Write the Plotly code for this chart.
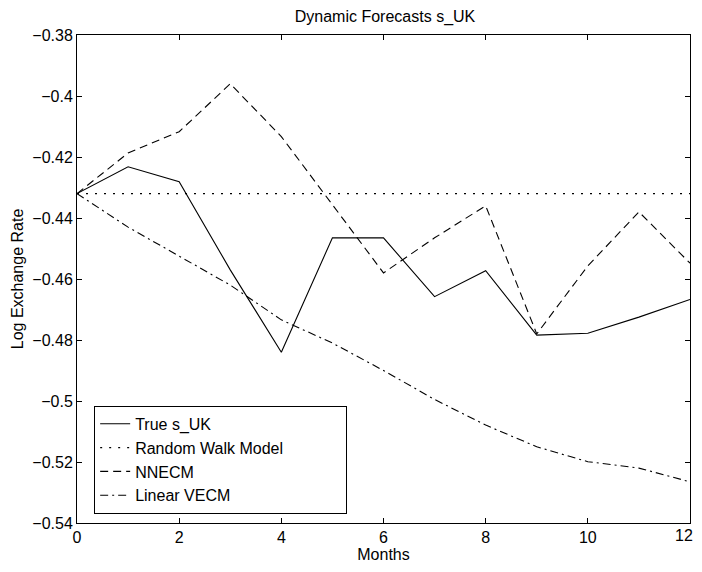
import plotly.graph_objects as go

months = list(range(13))
true_uk = [-0.432, -0.4232, -0.4281, -0.457, -0.484, -0.4465, -0.4465, -0.4658, -0.4573, -0.4784, -0.4778, -0.4725, -0.4667]
random_walk = [-0.432] * 13
nnecm = [-0.432, -0.4187, -0.4117, -0.396, -0.4133, -0.4357, -0.458, -0.4465, -0.436, -0.478, -0.4557, -0.438, -0.4548]
linear_vecm = [-0.432, -0.443, -0.4525, -0.462, -0.4734, -0.481, -0.490, -0.4995, -0.5079, -0.515, -0.5199, -0.522, -0.5265]

x_ticks = [0, 2, 4, 6, 8, 10, 12]
x_tick_text = ["0", "2", "4", "6", "8", "10", "12"]
y_ticks = [-0.54, -0.52, -0.5, -0.48, -0.46, -0.44, -0.42, -0.4, -0.38]
y_tick_text = ["\u22120.54", "\u22120.52", "\u22120.5", "\u22120.48", "\u22120.46", "\u22120.44", "\u22120.42", "\u22120.4", "\u22120.38"]

FONT = "Liberation Sans, Arial, Helvetica, sans-serif"
FS = 16
PAD = "\u00a0" * 13

fig = go.Figure()
series = [
    ("True s_UK", true_uk, "solid"),
    ("Random Walk Model" + PAD, random_walk, "2px,7px"),
    ("NNECM", nnecm, "8px,5px"),
    ("Linear VECM", linear_vecm, "8px,4px,2px,4px"),
]
for name, vals, dash in series:
    fig.add_trace(go.Scatter(x=months, y=vals, mode="lines", name=name,
                             line=dict(color="black", width=1.1, dash=dash)))

axis_common = dict(showgrid=False, zeroline=False, showline=True, linecolor="black",
                   linewidth=1, mirror="ticks", ticks="inside", ticklen=5, automargin=False,
                   tickcolor="black", tickfont=dict(family=FONT, size=FS, color="black"))

# the last x tick label sits at the page edge; draw it as an annotation nudged inside
axis_tick_text = x_tick_text[:-1] + [""]

fig.update_layout(
    width=686, height=556,
    margin=dict(l=69, r=4, t=27, b=41),
    paper_bgcolor="white", plot_bgcolor="white",
    font=dict(family=FONT, size=FS, color="black"),
    title=dict(text="Dynamic Forecasts s_UK", x=0.5496, xanchor="center", y=0.984, yanchor="middle",
               font=dict(family=FONT, size=FS, color="black")),
    xaxis=dict(range=[0, 12], tickvals=x_ticks, ticktext=axis_tick_text,
               title=dict(text="Months", font=dict(family=FONT, size=FS), standoff=0), **axis_common),
    yaxis=dict(range=[-0.54, -0.38], tickvals=y_ticks, ticktext=y_tick_text,
               title=dict(text="Log Exchange Rate", font=dict(family=FONT, size=FS), standoff=4), **axis_common),
    legend=dict(x=0.028, y=0.24, xanchor="left", yanchor="top", bgcolor="white",
                bordercolor="black", borderwidth=1, font=dict(family=FONT, size=FS),
                tracegroupgap=0, itemwidth=30),
    showlegend=True,
)
fig.add_annotation(x=x_ticks[-1], xref="x", y=0, yref="paper", text=x_tick_text[-1],
                   showarrow=False, xanchor="right", xshift=4, yanchor="top", yshift=-3,
                   font=dict(family=FONT, size=FS, color="black"), borderpad=0)

fig.write_html("out.html")
